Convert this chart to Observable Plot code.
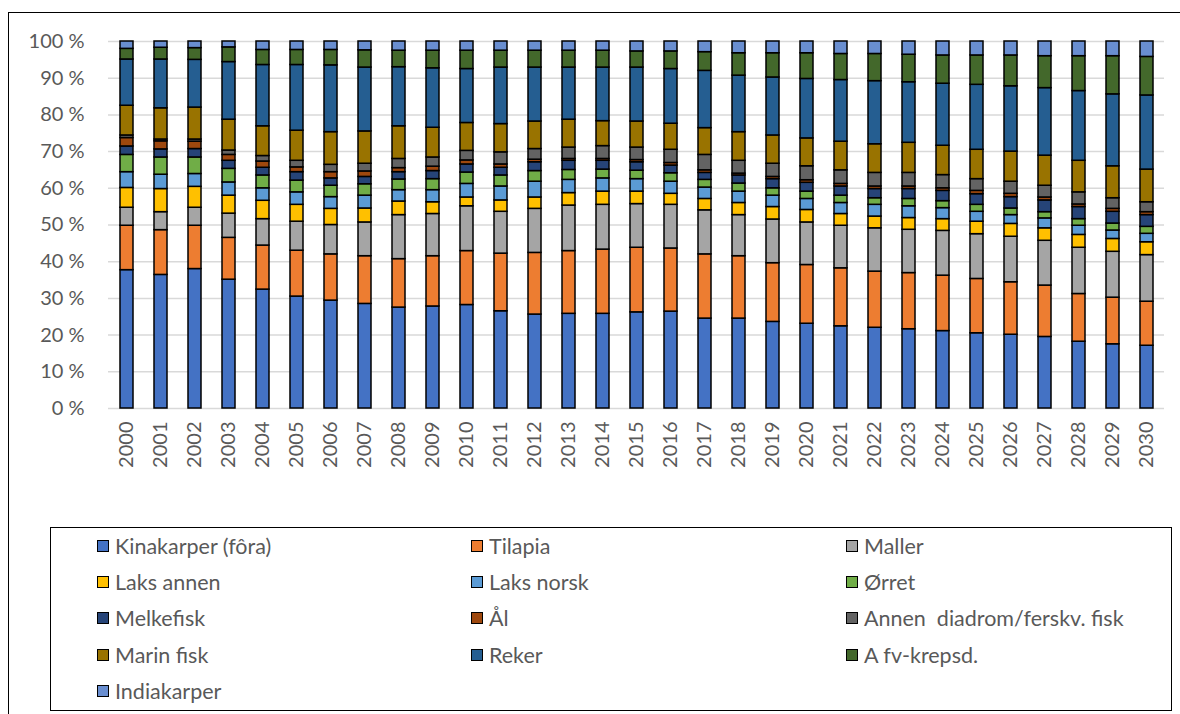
<!DOCTYPE html>
<html><head><meta charset="utf-8">
<script src="https://cdn.jsdelivr.net/npm/d3@7"></script>
<script src="https://cdn.jsdelivr.net/npm/@observablehq/plot@0.6"></script>
<style>
html,body{margin:0;padding:0;background:#fff;}
body{width:1180px;height:714px;overflow:hidden;position:relative;font-family:Lato,"Open Sans",sans-serif;}
#frame{position:absolute;left:8px;top:12px;width:1300px;height:800px;border-left:1.5px solid #000;border-top:1.5px solid #000;}
#chart{position:absolute;left:0;top:0;}
#legend{position:absolute;left:50px;top:527px;width:1122px;height:184px;border:1.5px solid #000;box-sizing:border-box;}
.item{position:absolute;display:flex;align-items:center;height:24px;font-size:21.5px;color:#595959;white-space:pre;}
.sw{width:10px;height:10px;border:1.6px solid #000;margin-right:6px;flex:none;}
</style></head>
<body>
<div id="frame"></div>
<div id="chart"></div>
<div id="legend"></div>
<script>
const years = ["2000","2001","2002","2003","2004","2005","2006","2007","2008","2009","2010","2011","2012","2013","2014","2015","2016","2017","2018","2019","2020","2021","2022","2023","2024","2025","2026","2027","2028","2029","2030"];
const seriesNames = ["Kinakarper (fôra)","Tilapia","Maller","Laks annen","Laks norsk","Ørret","Melkefisk","Ål","Annen  diadrom/ferskv. fisk","Marin fisk","Reker","A fv-krepsd.","Indiakarper"];
const colors = ["#4472C4","#ED7D31","#A5A5A5","#FFC000","#5B9BD5","#70AD47","#264478","#9E480E","#636363","#997300","#255E91","#43682B","#698ED0"];
const yTicks = [0,10,20,30,40,50,60,70,80,90,100];

const kinakarper = [37.7,36.4,38.0,35.1,32.4,30.5,29.4,28.5,27.5,27.8,28.2,26.5,25.6,25.8,25.8,26.2,26.4,24.5,24.5,23.6,23.1,22.4,22.0,21.6,21.1,20.5,20.1,19.5,18.2,17.5,17.1];
const tilapia = [12.1,12.2,11.8,11.4,12.0,12.5,12.6,13.0,13.2,13.7,14.7,15.7,16.8,17.1,17.5,17.6,17.2,17.5,17.0,16.0,16.0,15.8,15.3,15.3,15.1,14.8,14.3,14.0,13.0,12.7,12.0];
const maller = [4.9,4.9,4.9,6.6,7.2,7.9,8.0,9.2,12.0,11.5,12.2,11.4,12.0,12.4,12.2,11.9,11.9,12.0,11.2,11.9,11.6,11.6,11.8,11.8,12.2,12.2,12.4,12.2,12.6,12.5,12.7];
const laksAnnen = [5.4,6.3,5.7,4.9,5.0,4.6,4.4,3.8,3.7,3.2,2.4,3.1,3.1,3.4,3.6,3.4,3.0,3.1,3.3,3.4,3.4,3.2,3.2,3.2,3.2,3.4,3.5,3.4,3.5,3.5,3.5];
const laksNorsk = [4.3,3.9,3.5,3.6,3.4,3.4,3.2,3.5,3.1,3.3,3.7,3.8,4.3,3.6,3.6,3.4,3.3,3.1,3.1,3.1,3.0,3.0,3.2,3.2,3.0,2.7,2.4,2.7,2.5,2.3,2.3];
const orret = [4.7,4.7,4.5,3.7,3.5,3.2,3.1,3.1,2.9,3.0,3.1,3.0,2.9,2.7,2.4,2.3,2.3,2.1,2.2,2.0,2.0,2.0,1.8,2.0,1.9,1.9,1.8,1.7,1.8,1.9,1.9];
const melkefisk = [2.3,2.2,2.3,2.2,2.1,2.3,2.0,2.0,2.0,2.2,2.2,2.1,2.4,2.5,2.4,2.3,2.1,1.9,2.2,2.5,2.4,2.5,2.5,2.7,2.8,2.9,3.1,3.2,3.3,3.2,3.2];
const al = [2.3,2.2,2.0,1.6,1.7,1.3,1.7,1.5,1.1,1.2,1.1,0.9,0.7,0.5,0.5,0.6,0.7,0.7,0.5,0.6,0.7,0.7,0.7,0.7,0.7,0.9,0.9,0.8,0.7,0.8,0.8];
const annenDiadrom = [0.7,0.5,0.6,1.2,1.5,1.8,2.0,2.1,2.5,2.5,2.6,3.3,2.9,3.1,3.5,3.4,3.6,4.2,3.5,3.6,3.8,3.7,3.7,3.7,3.6,3.2,3.3,3.2,3.3,2.9,2.7];
const marinFisk = [8.1,8.5,8.7,8.4,8.1,8.2,8.9,8.8,8.9,8.1,7.6,7.7,7.5,7.6,6.8,7.1,7.1,7.3,7.8,7.7,7.6,7.8,7.8,8.2,8.0,8.0,8.2,8.2,8.6,8.7,8.9];
const reker = [12.6,13.3,13.0,15.7,16.7,17.9,18.2,17.4,16.1,16.2,14.7,15.4,14.7,14.2,14.6,14.7,14.9,15.6,15.4,15.8,16.2,16.8,17.2,16.5,16.9,17.7,17.8,18.4,19.0,19.6,20.2];
const afvKrepsd = [2.9,3.2,3.2,4.0,4.1,4.1,4.2,4.7,4.5,4.8,5.0,4.6,4.6,4.6,4.6,4.4,4.8,5.1,6.1,6.6,7.0,7.1,7.4,7.5,7.7,8.0,8.4,8.7,9.5,10.4,10.5];
const indiakarper = [2.0,1.7,1.8,1.6,2.3,2.3,2.3,2.4,2.5,2.5,2.5,2.5,2.5,2.5,2.5,2.7,2.7,2.9,3.2,3.2,3.2,3.4,3.4,3.6,3.8,3.8,3.8,4.0,4.0,4.0,4.2];

const seriesValues = [kinakarper,tilapia,maller,laksAnnen,laksNorsk,orret,melkefisk,al,annenDiadrom,marinFisk,reker,afvKrepsd,indiakarper];

const data = [];
seriesValues.forEach((vals, i) => vals.forEach((v, j) => data.push({year: years[j], series: seriesNames[i], value: v})));

const chart = Plot.plot({
  width: 1180, height: 520,
  marginLeft: 108, marginRight: 16, marginTop: 41, marginBottom: 112,
  style: {fontFamily: "Lato, 'Open Sans', sans-serif", fontSize: "20px", color: "#595959", background: "transparent"},
  x: {type: "band", domain: years, paddingInner: 0.62, paddingOuter: 0.31, label: null},
  y: {domain: [0, 100], label: null},
  color: {domain: seriesNames, range: colors},
  marks: [
    Plot.ruleY(yTicks, {stroke: "#d9d9d9", strokeWidth: 1.5}),
    Plot.barY(data, Plot.stackY({order: null}, {x: "year", y: "value", z: "series", fill: "series", stroke: "#000", strokeWidth: 1.5})),
    Plot.axisY(yTicks, {tickSize: 0, tickPadding: 24, tickFormat: d => d + " %", fill: "#595959", fontSize: 20}),
    Plot.axisX({tickRotate: -90, tickSize: 0, tickPadding: 13, fill: "#595959", fontSize: 20, label: null})
  ]
});
document.getElementById("chart").appendChild(chart);

// legend
const colLeft = [97, 471, 846];
const rowCenter = [546, 582, 618, 655, 691];
seriesNames.forEach((name, i) => {
  const r = Math.floor(i / 3), c = i % 3;
  const el = document.createElement("div");
  el.className = "item";
  el.style.left = colLeft[c] + "px";
  el.style.top = (rowCenter[r] - 12) + "px";
  const sw = document.createElement("span");
  sw.className = "sw";
  sw.style.background = colors[i];
  const tx = document.createElement("span");
  tx.textContent = name;
  el.appendChild(sw); el.appendChild(tx);
  document.body.appendChild(el);
});
</script>
</body></html>
